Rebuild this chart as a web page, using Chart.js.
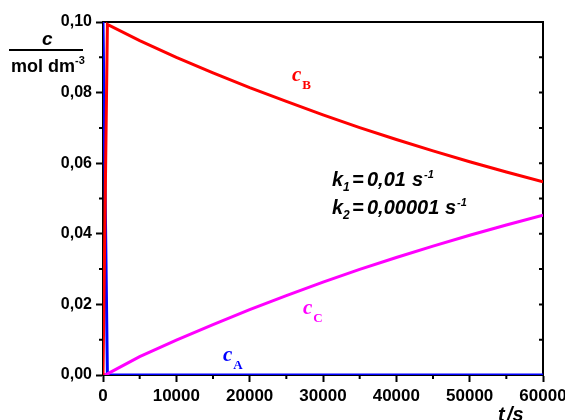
<!DOCTYPE html>
<html>
<head>
<meta charset="utf-8">
<script src="https://cdn.jsdelivr.net/npm/chart.js@4/dist/chart.umd.min.js"></script>
<style>
  body { margin: 0; background: #fff; }
  canvas { display: block; }
</style>
</head>
<body>
<canvas id="chart1" width="565" height="420"></canvas>
<script>
// time in s, concentrations in mol dm-3
var time = [0, 600, 5000, 10000, 15000, 20000, 25000, 30000, 35000, 40000, 45000, 50000, 55000, 60000];
var cA = [0.100, 0.000, 0, 0, 0, 0, 0, 0, 0, 0, 0, 0, 0, 0];
var cB = [0.000, 0.0993, 0.0947, 0.0900, 0.0856, 0.0814, 0.0775, 0.0737, 0.0701, 0.0667, 0.0635, 0.0604, 0.0575, 0.0547];
var cC = [0.000, 0.0003, 0.0052, 0.0099, 0.0143, 0.0185, 0.0225, 0.0263, 0.0299, 0.0333, 0.0365, 0.0396, 0.0425, 0.0453];

var xMinor = [5000, 15000, 25000, 35000, 45000, 55000];
var yMinor = [0.01, 0.03, 0.05, 0.07, 0.09];
var yAll = [0.01, 0.02, 0.03, 0.04, 0.05, 0.06, 0.07, 0.08, 0.09];

function pts(ys) {
  return time.map(function(t, i) { return {x: t, y: ys[i]}; });
}

var SANS = '"Liberation Sans", Arial, sans-serif';
var SERIF = '"Liberation Serif", "Times New Roman", serif';

// frame + minor ticks + text
var frame = {
  id: 'frame',
  beforeDatasetsDraw: function(chart) {
    var ctx = chart.ctx, a = chart.chartArea;
    var sx = chart.scales.x, sy = chart.scales.y;
    ctx.save();
    ctx.strokeStyle = '#000';
    ctx.lineWidth = 2;
    ctx.beginPath();
    ctx.moveTo(a.left, a.top); ctx.lineTo(a.right, a.top); ctx.lineTo(a.right, a.bottom);
    xMinor.forEach(function(v) {
      var p = sx.getPixelForValue(v);
      ctx.moveTo(p, a.bottom); ctx.lineTo(p, a.bottom + 4);
    });
    yMinor.forEach(function(v) {
      var p = sy.getPixelForValue(v);
      ctx.moveTo(a.left - 4, p); ctx.lineTo(a.left, p);
    });
    yAll.forEach(function(v) {
      var p = sy.getPixelForValue(v);
      ctx.moveTo(a.right - 4, p); ctx.lineTo(a.right, p);
    });
    ctx.stroke();
    ctx.restore();
  },
  afterDraw: function(chart) {
    var ctx = chart.ctx;
    ctx.save();
    ctx.textBaseline = 'alphabetic';
    ctx.textAlign = 'left';

    // y axis title as a fraction
    ctx.fillStyle = '#000';
    ctx.font = 'italic bold 19px ' + SANS;
    ctx.fillText('c', 42, 45);
    ctx.fillRect(9, 49, 74, 2);
    ctx.font = 'bold 18px ' + SANS;
    ctx.fillText('mol dm', 11, 72);
    var w = ctx.measureText('mol dm').width;
    ctx.font = 'bold 11px ' + SANS;
    ctx.fillText('-3', 11 + w, 64);

    // x axis title
    ctx.font = 'italic bold 20px ' + SANS;
    ctx.fillText('t', 498, 421);
    ctx.fillText('/s', 507, 421);

    // curve labels
    function lab(txt, sub, x, y, col) {
      ctx.fillStyle = col;
      ctx.font = 'italic bold 21px ' + SERIF;
      ctx.fillText(txt, x, y);
      var ww = ctx.measureText(txt).width;
      ctx.font = 'bold 13px ' + SERIF;
      ctx.fillText(sub, x + ww + 1, y + 8);
    }
    lab('c', 'B', 292, 81, '#ff0000');
    lab('c', 'C', 303, 314, '#ff00ff');
    lab('c', 'A', 223, 361, '#0000ff');

    // rate constants
    function kline(sub, val, sx, y) {
      ctx.fillStyle = '#000';
      ctx.font = 'italic bold 20px ' + SANS;
      ctx.fillText('k', 332, y);
      ctx.fillText('=', 352, y);
      ctx.fillText(val, 367, y);
      ctx.fillText('s', sx, y);
      var ws = ctx.measureText('s').width;
      ctx.font = 'italic bold 12px ' + SANS;
      ctx.fillText(sub, 343, y + 5);
      ctx.font = 'italic bold 11px ' + SANS;
      ctx.fillText('-1', sx + ws + 1, y - 8);
    }
    kline('1', '0,01', 412, 186);
    kline('2', '0,00001', 445, 214);
    ctx.restore();
  }
};

var chart1 = new Chart('chart1', {
  type: 'scatter',
  data: {
    datasets: [
      {label: 'cB', data: pts(cB), borderColor: '#ff0000', borderWidth: 3, showLine: true, pointRadius: 0},
      {label: 'cC', data: pts(cC), borderColor: '#ff00ff', borderWidth: 3, showLine: true, pointRadius: 0},
      {label: 'cA', data: pts(cA), borderColor: '#0000ff', borderWidth: 3, showLine: true, pointRadius: 0}
    ]
  },
  options: {
    responsive: false,
    animation: false,
    devicePixelRatio: 1,
    layout: {padding: {top: 22, right: 22, left: 0, bottom: 0}},
    plugins: {legend: {display: false}, tooltip: {enabled: false}},
    scales: {
      x: {
        type: 'linear', min: 0, max: 60000,
        afterFit: function(s) { s.height = 45; s.paddingLeft = 0; s.paddingRight = 0; },
        border: {color: '#000', width: 2},
        grid: {drawOnChartArea: false, tickLength: 7, tickColor: '#000', tickWidth: 2},
        ticks: {
          stepSize: 10000, maxRotation: 0, padding: 4, color: '#000',
          font: {family: SANS, weight: 'bold', size: 17},
          callback: function(v) { return String(v); }
        }
      },
      y: {
        min: 0, max: 0.1,
        afterFit: function(s) { s.width = 103; s.paddingTop = 0; s.paddingBottom = 0; },
        border: {color: '#000', width: 2},
        grid: {drawOnChartArea: false, tickLength: 7, tickColor: '#000', tickWidth: 2},
        ticks: {
          stepSize: 0.02, padding: 4, color: '#000',
          font: {family: SANS, weight: 'bold', size: 16},
          callback: function(v) { return v.toFixed(2).replace('.', ','); }
        }
      }
    }
  },
  plugins: [frame]
});
</script>
</body>
</html>
